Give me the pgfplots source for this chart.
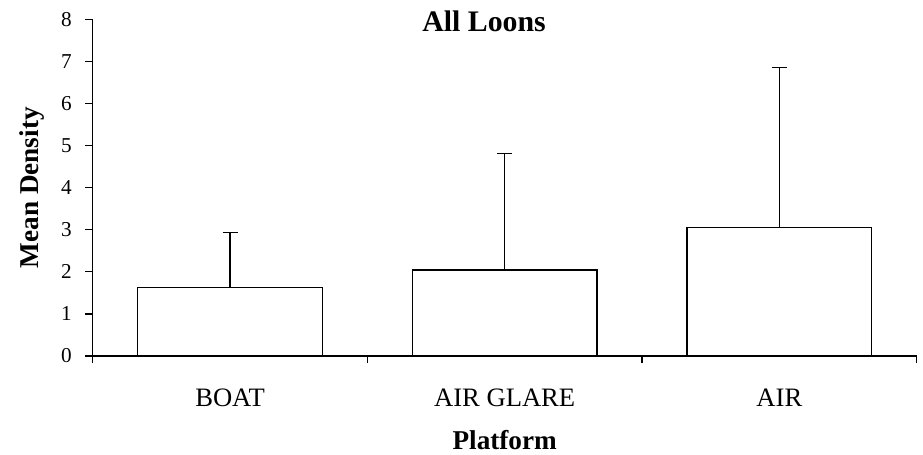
\documentclass[border=0pt]{standalone}
\usepackage{fontspec}
\setmainfont{Liberation Serif}
\usepackage{pgfplots}
\pgfplotsset{compat=1.18}
\begin{document}
\begin{tikzpicture}
\useasboundingbox (-46.35pt,-49.5pt) rectangle (415.15pt,178pt);
\begin{axis}[
  at={(0,0)}, anchor=south west,
  scale only axis,
  width=412pt, height=168.35pt,
  xmin=-0.5, xmax=2.5, ymin=0, ymax=8,
  axis x line=bottom, axis y line=left,
  axis line style={-, line width=0.65pt},
  tick align=outside,
  major tick length=3.7pt,
  tick style={line width=0.65pt, black},
  xtick={-0.5,0.5,1.5,2.5}, xticklabels={},
  extra x ticks={0,1,2},
  extra x tick labels={BOAT,AIR GLARE,AIR},
  extra x tick style={major tick length=0pt},
  ytick={0,1,2,3,4,5,6,7,8},
  /pgf/number format/assume math mode=true,
  yticklabel style={font=\fontsize{10.6}{12}\selectfont, xshift=-3.3pt},
  xticklabel style={font=\fontsize{13.3}{15}\selectfont, anchor=base, yshift=-25.35pt},
  xlabel={\textbf{Platform}},
  ylabel={\textbf{Mean Density}},
  label style={font=\fontsize{13.6}{16}\selectfont},
  xlabel style={at={(axis description cs:0.5,0)}, anchor=base, yshift=-46.6pt},
  ylabel style={at={(axis description cs:-0.0737,0.5)}, anchor=center},
  title={\textbf{All Loons}},
  title style={font=\fontsize{14.9}{17}\selectfont, at={(axis description cs:0.475,1)}, anchor=base, yshift=-12.2pt},
  ybar, bar width=92.35pt,
  clip=false,
]
\addplot[draw=black, fill=white, line width=0.65pt,
  error bars/.cd, y dir=plus, y explicit,
  error bar style={line width=0.65pt, black},
  error mark options={rotate=90, mark size=3.75pt, line width=0.65pt, black}]
  coordinates {
    (0,1.63) +- (0,1.31)
    (1,2.04) +- (0,2.77)
    (2,3.06) +- (0,3.79)
  };
\end{axis}
\end{tikzpicture}
\end{document}
